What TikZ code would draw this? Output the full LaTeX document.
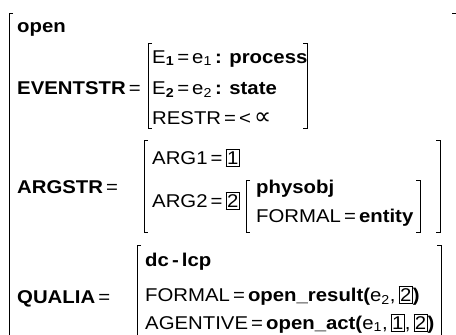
\documentclass[tikz,border=0pt]{standalone}
\usepackage{fontspec}
\setmainfont[FakeStretch=1.1]{Liberation Sans}
\newfontfamily\dv{DejaVu Sans}
\newcommand\tagbox[1]{{\setlength\fboxsep{0.8pt}\setlength\fboxrule{0.6pt}\fbox{\rule[-0.08em]{0pt}{0.84em}#1}}}
\begin{document}
\begin{tikzpicture}[x=1pt,y=-1pt,
  txt/.style={anchor=base west, inner sep=0pt, font=\fontsize{18.5}{22}\selectfont},
  br/.style={line width=0.7pt}]
\useasboundingbox (0,0) rectangle (456,335);
% outer bracket
\draw[br] (13,13) -- (9,13) -- (9,335);
\draw[br] (452,13) -- (456,13) -- (456,16);
\node[txt] (open) at (17,32) {\textbf{open}};
% EVENTSTR
\node[txt] (ev) at (17,94) {\textbf{EVENTSTR}\,=};
\draw[br] (152,43) -- (148,43) -- (148,128) -- (152,128);
\draw[br] (303,43) -- (307,43) -- (307,128) -- (303,128);
\node[txt] (e1) at (152,63) {E\textsubscript{\textbf{1}}\,=\,e\textsubscript{1}\,\textbf{: process}};
\node[txt] (e2) at (152,94) {E\textsubscript{\textbf{2}}\,=\,e\textsubscript{2}\,\textbf{: state}};
\node[txt] (restr) at (152,124) {RESTR\,=\,<\,{\dv\fontsize{24}{22}\selectfont ∝}};
% ARGSTR
\node[txt] (arg) at (17,193) {\textbf{ARGSTR}\,=};
\draw[br] (148,140) -- (144,140) -- (144,232) -- (148,232);
\draw[br] (436,140) -- (440,140) -- (440,232) -- (436,232);
\node[txt] (arg1) at (152,164) {ARG1\,=\,\tagbox{1}};
\node[txt] (arg2) at (152,207) {ARG2\,=\,\tagbox{2}};
\draw[br] (250,180) -- (246,180) -- (246,232) -- (250,232);
\draw[br] (416,180) -- (420,180) -- (420,232) -- (416,232);
\node[txt] (phys) at (256,193) {\textbf{physobj}};
\node[txt] (form1) at (256,222) {FORMAL\,=\,\textbf{entity}};
% QUALIA
\node[txt] (qual) at (17,303) {\textbf{QUALIA}\,=};
\draw[br] (141,245) -- (137,245) -- (137,335);
\draw[br] (437,245) -- (441,245) -- (441,335);
\node[txt] (dc) at (145,266) {\textbf{dc\,-\,lcp}};
\node[txt] (form2) at (145,301) {FORMAL\,=\,\textbf{open\_result(}e\textsubscript{2},\,\tagbox{2}\textbf{)}};
\node[txt] (agent) at (145,329) {AGENTIVE\,=\,\textbf{open\_act(}e\textsubscript{1},\,\tagbox{1},\,\tagbox{2}\textbf{)}};
\end{tikzpicture}
\end{document}
